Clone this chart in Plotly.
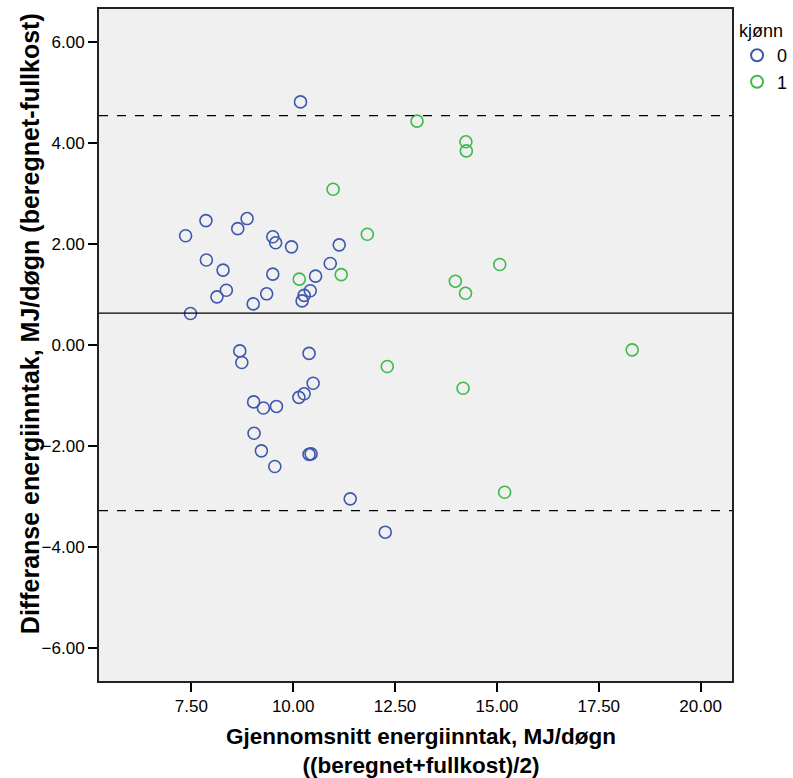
import plotly.graph_objects as go

# kjønn = 0
x0 = [10.18, 7.36, 7.86, 8.64, 8.87, 9.50, 9.57, 9.96, 11.13,
      7.87, 8.28, 9.50, 10.55, 10.91, 8.36, 8.13, 9.02, 9.35, 10.42, 10.27, 10.22, 7.48,
      8.69, 8.74, 10.39, 10.49, 10.27, 10.14, 9.03, 9.27, 9.59, 9.04, 9.22, 9.55, 10.39, 10.44,
      11.40, 12.26]
y0 = [4.82, 2.17, 2.47, 2.31, 2.51, 2.15, 2.03, 1.95, 1.99,
      1.69, 1.49, 1.41, 1.37, 1.62, 1.09, 0.96, 0.82, 1.02, 1.08, 0.99, 0.88, 0.63,
      -0.11, -0.34, -0.16, -0.75, -0.96, -1.03, -1.12, -1.24, -1.21, -1.74, -2.09, -2.40, -2.16, -2.15,
      -3.04, -3.70]
# kjønn = 1
x1 = [10.98, 11.82, 10.15, 11.18, 13.04, 14.24, 14.25, 15.07, 13.98, 14.23, 18.32, 12.31, 14.17, 15.19]
y1 = [3.09, 2.20, 1.31, 1.40, 4.44, 4.03, 3.85, 1.60, 1.27, 1.03, -0.09, -0.42, -0.85, -2.91]

mean_diff = 0.636
upper_loa = 4.547
lower_loa = -3.275

x_ticks = [7.5, 10.0, 12.5, 15.0, 17.5, 20.0]
y_ticks = [-6, -4, -2, 0, 2, 4, 6]

x_title_lines = ["Gjennomsnitt energiinntak, MJ/døgn", "((beregnet+fullkost)/2)"]
y_title = "Differanse energiinntak, MJ/døgn (beregnet-fullkost)"

FONT = "Liberation Sans, Arial, sans-serif"
BLUE = "#3E58AC"
GREEN = "#3EBA4A"

fig = go.Figure()
fig.add_trace(go.Scatter(x=x0, y=y0, mode="markers", name="0",
                         marker=dict(symbol="circle-open", size=12, color=BLUE,
                                     line=dict(width=1.6, color=BLUE))))
fig.add_trace(go.Scatter(x=x1, y=y1, mode="markers", name="1",
                         marker=dict(symbol="circle-open", size=12, color=GREEN,
                                     line=dict(width=1.6, color=GREEN))))

for val, dash in [(mean_diff, "solid"), (upper_loa, "dash"), (lower_loa, "dash")]:
    fig.add_shape(type="line", xref="paper", x0=0, x1=1, yref="y", y0=val, y1=val,
                  line=dict(color="black", width=1.3, dash=dash))

# axis titles as annotations
fig.add_annotation(text="<b>%s</b>" % "<br>".join(x_title_lines), xref="paper", yref="paper",
                   x=0.508, y=-0.104, xanchor="center", yanchor="middle",
                   showarrow=False, font=dict(size=22.5))
fig.add_annotation(text="<b>%s</b>" % y_title, xref="paper", yref="paper",
                   x=-0.108, y=0.532, xanchor="center", yanchor="middle", textangle=-90,
                   showarrow=False, font=dict(size=25))

fig.update_layout(
    width=793, height=778,
    margin=dict(l=99, r=61, t=9, b=97, autoexpand=False),
    paper_bgcolor="white", plot_bgcolor="#F0F0F0",
    font=dict(family=FONT, size=17, color="black"),
    showlegend=True,
    legend=dict(title=dict(text="kjønn", font=dict(size=18)),
                x=1.008, xanchor="left", y=0.993, yanchor="top",
                font=dict(size=18), bgcolor="rgba(0,0,0,0)",
                itemsizing="constant", tracegroupgap=0, itemwidth=30),
)
fig.update_xaxes(range=[5.235, 20.77], tickvals=x_ticks, tickformat=".2f",
                 ticks="outside", ticklen=9, tickwidth=2, tickcolor="black",
                 showgrid=False, zeroline=False, showline=True, mirror=True,
                 linecolor="#222222", linewidth=2,
                 tickfont=dict(size=17))
fig.update_yaxes(range=[-6.647, 6.66], tickvals=y_ticks, tickformat=".2f",
                 ticks="outside", ticklen=9, tickwidth=2, tickcolor="black",
                 showgrid=False, zeroline=False, showline=True, mirror=True,
                 linecolor="#222222", linewidth=2,
                 tickfont=dict(size=17))

fig.write_html("out.html")
